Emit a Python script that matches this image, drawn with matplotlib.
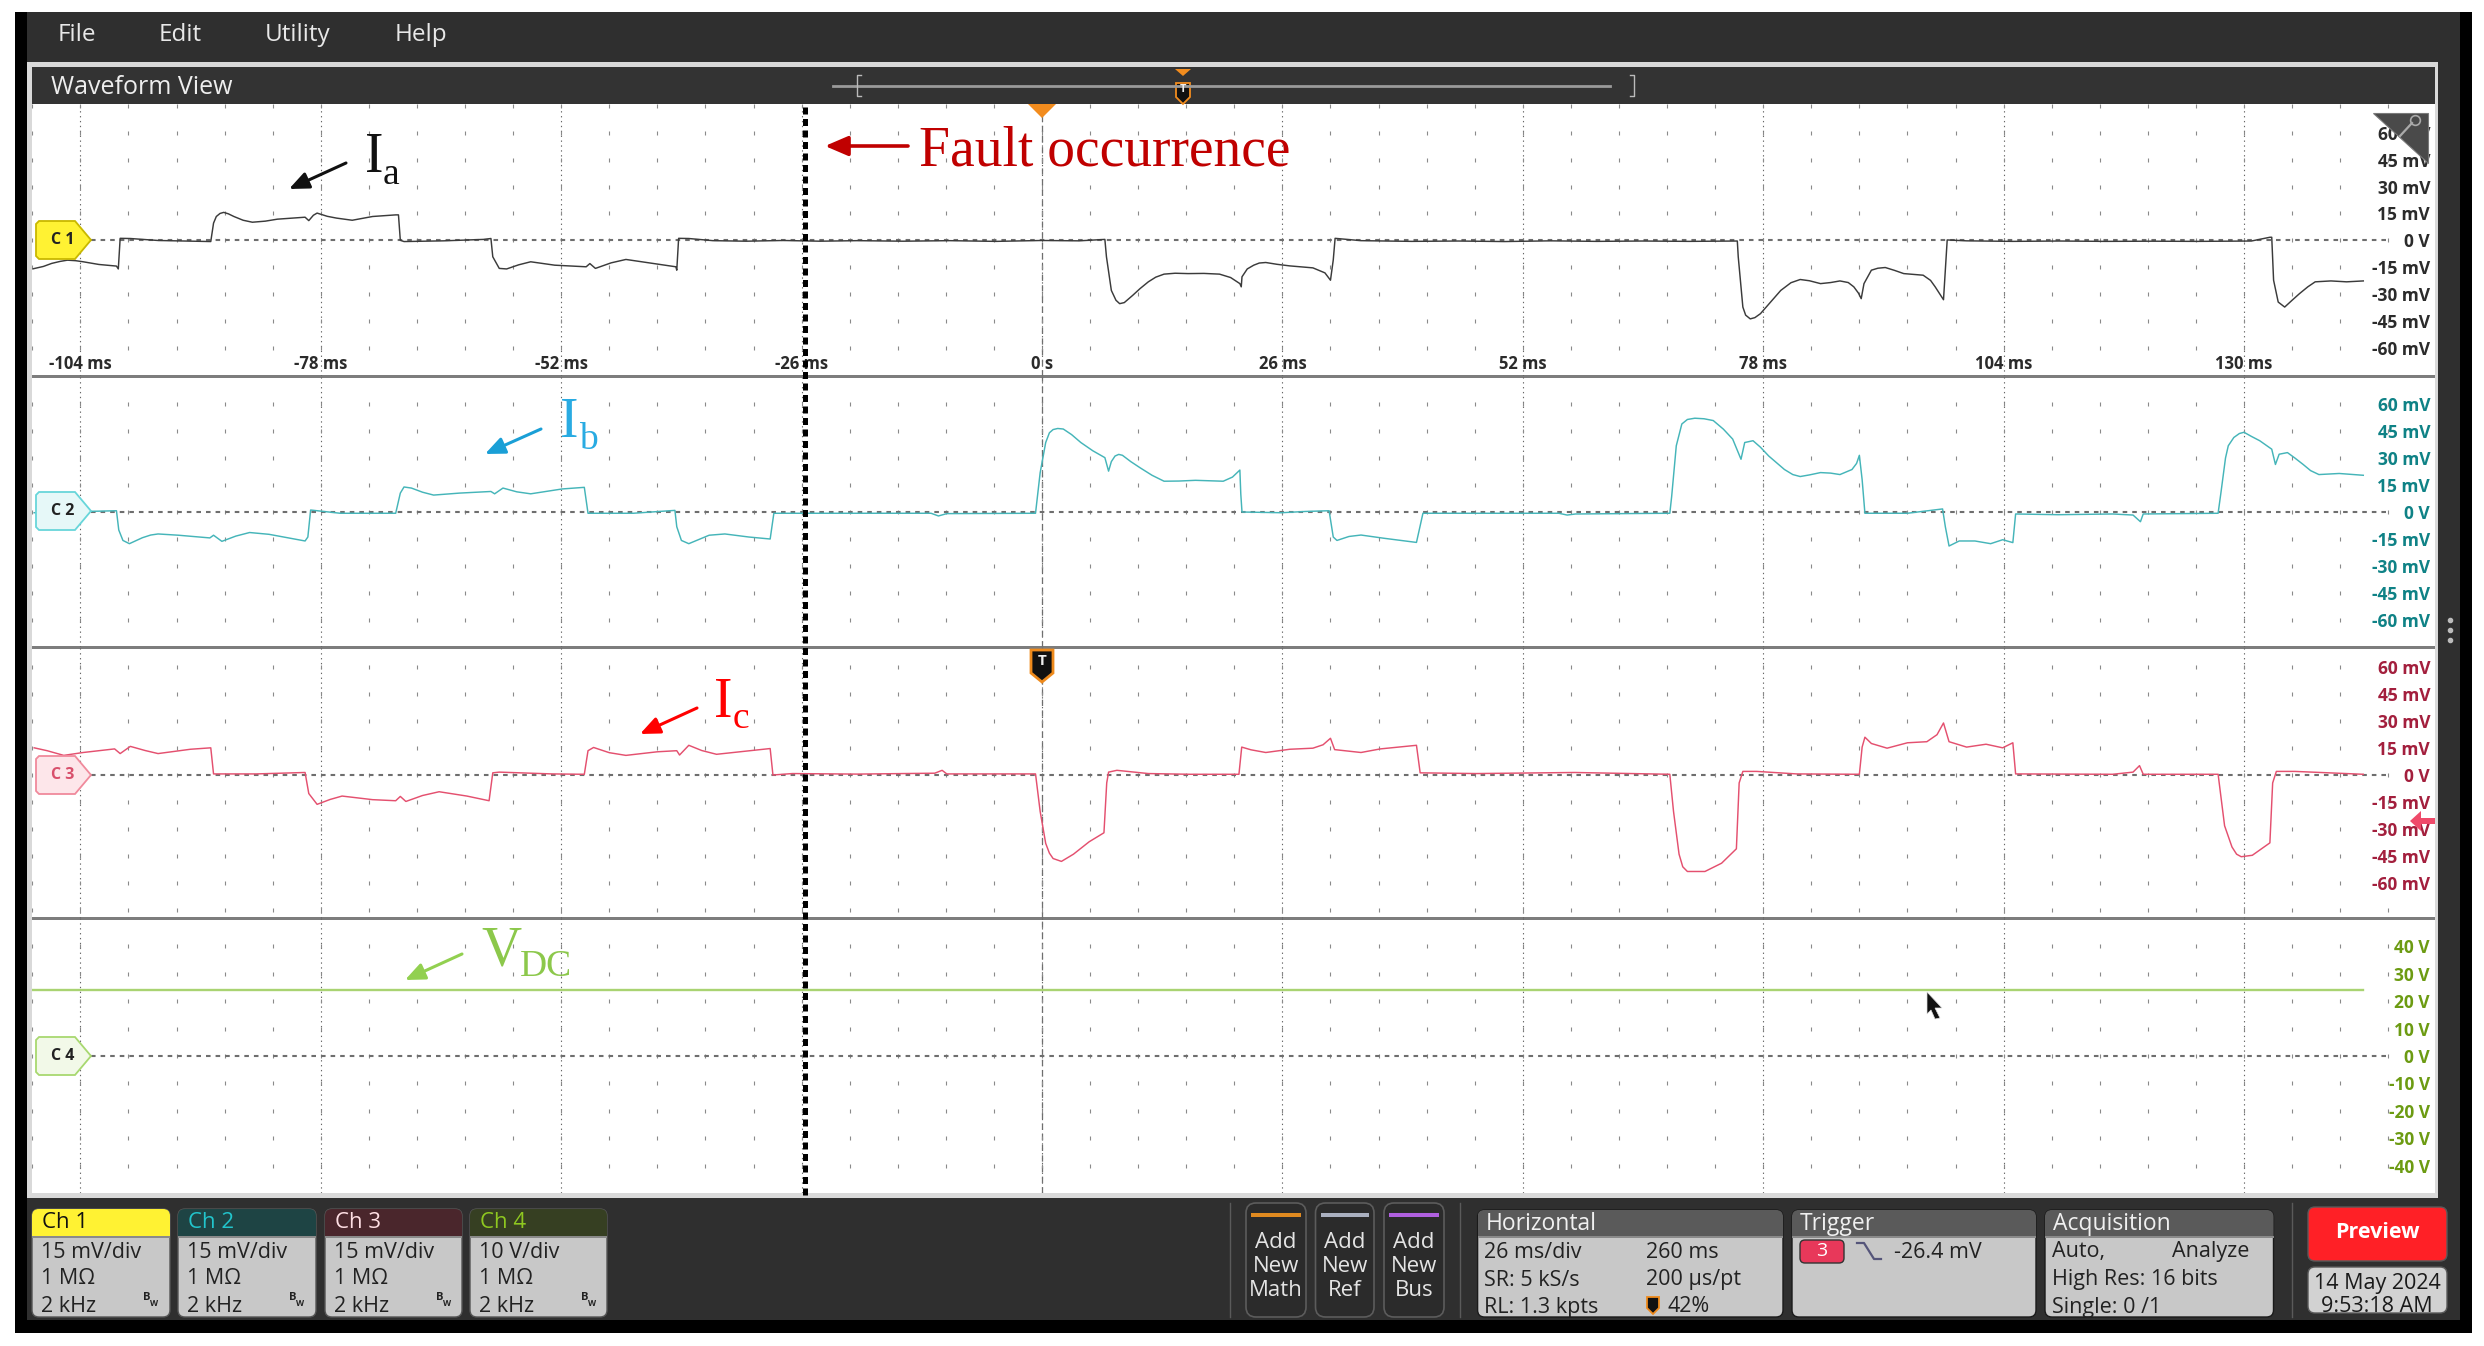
import matplotlib
matplotlib.use("Agg")
import numpy as np
import matplotlib.pyplot as plt
from matplotlib.patches import Rectangle, FancyBboxPatch, Polygon

# ------------------------- data (time ms, value) -------------------------
ch1_points = [(-109.1,-15.9),(-108,-14.6),(-107.1,-12.9),(-106.2,-11.8),(-105.4,-11.1),(-104.5,-11.4),(-103.7,-12),(-102,-13.5),(-100.1,-14.4),(-99.9,-16),(-99.7,1.1),(-98.6,1),(-95.6,-0.1),(-92.5,-0.4),(-89.9,-0.7),(-89.6,9.6),(-89.3,13.3),(-88.9,15),(-88.5,15.6),(-88,14.8),(-87.4,13.3),(-86.4,11.2),(-85.4,10.1),(-84,10.7),(-82.7,11.8),(-79.7,12.9),(-79.3,11),(-78.8,14),(-78.4,15.2),(-77.3,13.4),(-76.3,12.4),(-74.6,11.2),(-72.4,13.3),(-69.9,14.2),(-69.6,14.2),(-69.4,0),(-69,-0.7),(-64.7,-0.3),(-60.4,0.5),(-59.6,1),(-59.4,-9.2),(-58.7,-15.7),(-57.9,-16),(-56.6,-13.7),(-55.3,-12),(-52.7,-13.9),(-49.3,-14.8),(-48.9,-13),(-48.3,-15.7),(-46.6,-12.6),(-45,-10.7),(-42.5,-12.6),(-39.6,-14.8),(-39.5,-16.7),(-39.3,1.1),(-38.2,1),(-35.6,-0.2),(-32,-0.5),(-28,-0.1),(-24,-0.5),(-20,-0.2),(-15,-0.5),(-10,-0.2),(-5,-0.6),(0,-0.1),(4,-0.3),(6.8,0.5),(6.97,-9.2),(7.5,-28),(8,-33.5),(8.4,-35.4),(8.9,-34.8),(9.8,-30.8),(10.6,-27),(11.5,-23.2),(12.3,-20.6),(13.2,-18.9),(14.4,-18.4),(15.8,-18.6),(17.5,-18.5),(19.2,-18.9),(20.4,-20.8),(21.4,-24.2),(21.55,-26),(21.63,-20.4),(22.2,-16),(22.9,-13.9),(23.5,-12.7),(24.2,-12.4),(25.4,-13.4),(26.8,-14.3),(29.3,-15.4),(30.6,-18.2),(31.2,-22.3),(31.5,-11),(31.7,1.1),(34.5,-0.2),(40,-0.6),(45,-0.4),(50,-0.7),(55,-0.3),(60,-0.6),(65,-0.4),(70,-0.6),(75.2,-0.4),(75.3,-9.2),(75.8,-37.3),(76.1,-41.8),(76.6,-43.9),(77.1,-43.2),(77.7,-41),(78.8,-34.5),(79.9,-28),(81,-23.7),(82,-21.9),(83,-22.6),(84.2,-24.2),(85.3,-23.6),(86.3,-22.7),(87.2,-23.6),(87.8,-26),(88.3,-29.5),(88.6,-32.6),(88.9,-24.2),(89.7,-16.7),(90.4,-15.6),(91.2,-15.2),(92.2,-16.8),(93.2,-18.6),(95.3,-19.5),(96.1,-22.4),(96.6,-26),(97.5,-33.2),(97.9,0.2),(100,-0.3),(105,-0.6),(110,-0.4),(115,-0.6),(120,-0.5),(125,-0.6),(130.8,-0.4),(132.8,1.7),(133,1.7),(133.2,-22.3),(133.7,-34.5),(134.4,-37.3),(135.2,-33.5),(136,-29.8),(136.9,-26),(137.7,-23.2),(139.4,-22.7),(141.1,-23.2),(142.9,-22.7)]

ch2_points = [(-109,-0.4),(-100.1,0.7),(-99.85,-10),(-99.4,-15.8),(-98.7,-17.6),(-97.3,-14.3),(-96.4,-12.8),(-95.6,-12.2),(-93.4,-12.9),(-90,-14.4),(-89.6,-12.9),(-88.7,-16.3),(-87.2,-13.4),(-85.7,-11.4),(-83.6,-12.4),(-81.5,-14.4),(-79.7,-16.1),(-79.4,-13.9),(-79.1,1.1),(-78.4,0.7),(-75.9,-0.7),(-69.9,-0.7),(-69.4,10.5),(-69,13.9),(-68.2,13.3),(-67,11),(-65.8,9.4),(-63,10.5),(-59.6,11.4),(-59.2,10.1),(-58.3,13.3),(-56.8,11.2),(-55.3,10.1),(-51.9,12.8),(-49.5,13.7),(-49.1,-0.7),(-44.2,-0.7),(-39.7,0.9),(-39.5,-8.2),(-39,-15.8),(-38.2,-17.6),(-37,-15),(-36,-12.9),(-34.3,-12.2),(-31.7,-13.9),(-29.4,-15),(-29,-0.7),(-12,-0.7),(-11.2,-2.2),(-10.3,-0.9),(-0.7,-0.7),(-0.2,21.8),(0.4,38.6),(0.8,44),(1.2,45.8),(1.7,46.4),(2.3,46.1),(3.2,43),(4.2,38.6),(5.5,34),(6.8,30.2),(7.2,22.7),(7.5,28),(7.9,31.1),(8.3,32),(8.7,31.5),(9.6,28),(10.6,24.6),(11.9,20.4),(13.2,17.1),(14.8,17.2),(16.6,17.6),(19.6,17.1),(20.6,19.4),(21.4,23.3),(21.5,10),(21.63,0),(25.9,-0.4),(28.5,0.3),(31.05,0.7),(31.5,-13.9),(31.9,-15.8),(33.2,-13.6),(34.5,-12.8),(37,-14.6),(40.5,-16.9),(41.2,-0.7),(55.9,-0.7),(56.8,-1.7),(57.7,-1.1),(67.9,-0.7),(68.1,8.6),(68.6,36.8),(69.2,48.9),(69.8,51.4),(70.6,52.1),(71.6,51.8),(72.6,50.8),(73.7,46),(74.7,40.5),(75.6,29.3),(76,38.6),(76.9,39.6),(77.7,36),(78.6,31.1),(80.3,23.6),(81.2,20.8),(82,19.7),(83,20.6),(84.2,21.9),(85.3,21.6),(86.3,20.8),(87.6,23.6),(88.1,27),(88.4,31.5),(88.7,18),(89,-0.7),(93.6,-0.7),(97.4,1.7),(97.7,-8.2),(98.1,-18.9),(99.2,-16.1),(100.9,-16.1),(102.6,-17.6),(103.9,-15.4),(105,-17),(105.3,-1.1),(109.9,-1.5),(115.8,-1.1),(118,-1.7),(118.8,-5.4),(119.1,-1.1),(127.2,-0.7),(127.5,10.5),(128,30),(128.3,36.8),(128.9,41.4),(129.5,43.6),(130,44.3),(130.8,42),(131.7,39.6),(133,34.9),(133.4,26.4),(133.8,32.1),(134.7,33),(135.5,30),(136.4,26.4),(137.2,23),(138.1,20.8),(140.3,21.4),(142.9,20.4)]

ch3_points = [(-109,15.1),(-107.6,13.5),(-105.8,10.9),(-103.7,12.5),(-100.3,14.5),(-99.7,11.9),(-98.6,15.9),(-97,13.6),(-95.6,11.9),(-92.1,14.3),(-89.9,15.1),(-89.6,0.6),(-85,0.6),(-79.7,1.4),(-79.3,-10.3),(-78.4,-16.3),(-77,-13.6),(-75.7,-11.7),(-72.4,-13.7),(-69.9,-14.3),(-69.4,-11.9),(-68.8,-14.7),(-67,-11.4),(-65.2,-9.3),(-62.2,-11.7),(-59.8,-14.3),(-59.4,1.2),(-58.7,1.6),(-53,0.6),(-49.5,0.4),(-49.1,13.5),(-48.5,15.3),(-46.8,12.4),(-45,10.9),(-41.6,12.9),(-39.5,13.5),(-39.2,11.1),(-38.2,16.5),(-36.8,13.6),(-35.2,11.5),(-29.4,14.7),(-29.1,0),(-27,0.8),(-20,0.5),(-11.6,1),(-10.8,2.6),(-10.3,0.6),(-0.7,0.6),(-0.2,-20.2),(0.4,-38),(0.8,-43.4),(1.2,-46.4),(2.1,-48),(3.4,-44),(5.1,-37.1),(6.7,-32.1),(7,-4.4),(7.2,1.6),(8.1,2.6),(11.5,0.8),(16,0.4),(21.3,0.4),(21.6,15.5),(22.6,14),(24.2,12.5),(26.8,14.3),(29.3,14.9),(30.4,16.8),(31.2,20.4),(31.65,14.1),(34.5,12.5),(36.6,14.5),(40.5,16.5),(40.9,1.2),(47,0.8),(57.6,1.4),(67.9,0.4),(68.3,-20.2),(68.9,-44),(69.3,-51),(69.8,-53.6),(71.7,-53.6),(73.5,-49),(75.1,-41),(75.4,-4.4),(75.8,2),(77.3,2),(81.6,0.6),(88.4,0.4),(88.7,15.5),(89,21),(89.7,17.5),(91.4,14.9),(93.6,17.9),(95.7,18.5),(96.8,22.4),(97.5,28.9),(98.1,18.5),(100,15.5),(102.1,17.1),(103.9,15.1),(105,17.9),(105.3,0.6),(115.8,0.4),(118,1.6),(118.7,5.2),(119.1,0.4),(127.2,0.4),(127.9,-28.2),(128.7,-40),(129.2,-44),(129.7,-45.4),(130.9,-44.6),(132.8,-37.7),(133.1,-4.4),(133.5,2),(135.5,2),(142.9,0.4)]

ch4_t = [-109.2, 142.9]
ch4_v = [24, 24]

time_ticks = [-104, -78, -52, -26, 0, 26, 52, 78, 104, 130]
time_labels = ["-104 ms", "-78 ms", "-52 ms", "-26 ms", "0 s", "26 ms", "52 ms", "78 ms", "104 ms", "130 ms"]
mv_ticks = [60, 45, 30, 15, 0, -15, -30, -45, -60]
mv_labels = ["60 mV", "45 mV", "30 mV", "15 mV", "0 V", "-15 mV", "-30 mV", "-45 mV", "-60 mV"]
v_ticks = [40, 30, 20, 10, 0, -10, -20, -30, -40]
v_labels = ["40 V", "30 V", "20 V", "10 V", "0 V", "-10 V", "-20 V", "-30 V", "-40 V"]
fault_time = -25.6

ch1_t, ch1_mv = zip(*ch1_points)
ch2_t, ch2_mv = zip(*ch2_points)
ch3_t, ch3_mv = zip(*ch3_points)

# ------------------------- layout -------------------------
W, H = 2484, 1346
plt.rcParams['font.family'] = ['Open Sans', 'DejaVu Sans']
fig = plt.figure(figsize=(W / 100, H / 100), dpi=100, facecolor='white')

PX0, PX1 = 32, 2435
ZERO_PX, PX_PER_MS = 1042, 240.4 / 26


def x_of(t):
    return ZERO_PX + t * PX_PER_MS


bg = fig.add_axes([0, 0, 1, 1], zorder=0)
bg.set_xlim(0, W); bg.set_ylim(H, 0); bg.axis('off')
ui = fig.add_axes([0, 0, 1, 1], zorder=10)
ui.set_xlim(0, W); ui.set_ylim(H, 0); ui.axis('off'); ui.patch.set_alpha(0)


def rect(ax, x0, y0, x1, y1, color, **kw):
    ax.add_patch(Rectangle((x0, y0), x1 - x0, y1 - y0, fc=color, ec='none', **kw))


def rrect(ax, x0, y0, x1, y1, fc, ec='none', r=7, lw=1.0, clip=None):
    p = FancyBboxPatch((x0, y0), x1 - x0, y1 - y0, boxstyle=f"round,pad=0,rounding_size={r}",
                       fc=fc, ec=ec, lw=lw)
    ax.add_patch(p)
    if clip is not None:
        cr = Rectangle((clip[0], clip[1]), clip[2] - clip[0], clip[3] - clip[1], transform=ax.transData)
        p.set_clip_path(cr)
    return p


def txt(ax, x, y, s, size=15, color='#111111', ha='left', va='center', **kw):
    return ax.text(x, y, s, fontsize=size, color=color, ha=ha, va=va, **kw)


# chrome
rect(bg, 15, 12, 2472, 1333, '#000000')
rect(bg, 27, 12, 2460, 1320, '#2f2f2f')
rect(bg, 27, 62, 2438, 1198, '#d9d9d9')
rect(bg, 32, 67, 2435, 104, '#333333')
rect(bg, 32, 104, 2435, 1193, '#ffffff')
for name, x in [("File", 58), ("Edit", 159), ("Utility", 265), ("Help", 395)]:
    txt(bg, x, 35, name, 17.5, '#e8e8e8')
txt(bg, 51, 87, "Waveform View", 18, '#eeeeee')
bg.plot([833, 1610], [86, 86], color='#9a9a9a', lw=2)
bg.plot([861, 857, 857, 861], [75, 75, 96, 96], color='#bbbbbb', lw=1)
bg.plot([1630, 1634, 1634, 1630], [75, 75, 96, 96], color='#bbbbbb', lw=1)
bg.add_patch(Polygon([[1175, 69], [1191, 69], [1183, 76]], fc='#f28c1e', ec='none'))
bg.add_patch(Polygon([[1176, 83], [1190, 83], [1190, 97], [1183, 104], [1176, 97]], fc='#111111', ec='#f28c1e', lw=1.3))
txt(bg, 1183, 90, "T", 8, '#eeeeee', ha='center', fontweight='bold')
for y in (376, 647, 918):
    rect(bg, 32, y - 1.5, 2435, y + 1.5, '#7d7d7d')
for y in (620, 630, 640):
    bg.plot([2450], [y], 'o', ms=3, color='#bbbbbb')


# ------------------------- channels -------------------------
def channel(top, bot, zero_px, px_per_unit, t, v, color, ticks, labels, labcolor, rows, lw=1.05):
    ax = fig.add_axes([PX0 / W, 1 - bot / H, (PX1 - PX0) / W, (bot - top) / H], zorder=2)
    ax.patch.set_alpha(0)
    ax.set_xlim((PX0 - ZERO_PX) / PX_PER_MS, (PX1 - ZERO_PX) / PX_PER_MS)
    ax.set_ylim((zero_px - bot) / px_per_unit, (zero_px - top) / px_per_unit)
    for s in ax.spines.values():
        s.set_visible(False)
    ax.set_xticks(time_ticks)
    ax.grid(axis='x', color='#666666', lw=0.8, ls=(0, (1.2, 3.2)))
    ax.axvline(0, color='#6f6f6f', lw=0.9, ls=(0, (5, 3.5)))
    cols = np.arange(-21, 29) * 5.2
    xx, yy = np.meshgrid(cols, rows)
    ax.plot(xx.ravel(), yy.ravel(), ls='none', marker='|', ms=3.2, mew=0.8, color='#8a8a8a')
    ax.plot([(91 - ZERO_PX) / PX_PER_MS, (2389 - ZERO_PX) / PX_PER_MS], [0, 0],
            color='#6e6e6e', lw=1.5, ls=(0, (2.2, 2.4)))
    ax.plot(t, v, color=color, lw=lw, solid_joinstyle='round')
    ax.yaxis.tick_right()
    ax.set_yticks(ticks, labels)
    ax.tick_params(axis='y', length=0, pad=-3.6, labelsize=12.5, labelcolor=labcolor)
    for lb in ax.get_yticklabels():
        lb.set_ha('right')
        lb.set_fontweight('bold')
    ax.tick_params(axis='x', length=0, labelbottom=False)
    return ax


mv_rows = np.array(mv_ticks, dtype=float)
a1 = channel(104, 376, 240.3, 1.79, ch1_t, ch1_mv, '#3b3b3b', mv_ticks, mv_labels, '#2b2b2b', np.r_[75.0, mv_rows])
a2 = channel(376, 647, 512, 1.8, ch2_t, ch2_mv, '#45b5b9', mv_ticks, mv_labels, '#0f8286', mv_rows)
a3 = channel(647, 918, 775, 1.8, ch3_t, ch3_mv, '#e4506f', mv_ticks, mv_labels, '#a31f3d', np.r_[mv_rows, -75.0])
a4 = channel(918, 1193, 1056, 2.74, ch4_t, ch4_v, '#a9d372', v_ticks, v_labels, '#6c9b12', np.array(v_ticks, float), lw=1.7)
a1.set_xticks(time_ticks, time_labels)
a1.tick_params(axis='x', labelbottom=True, pad=-15, labelsize=12, labelcolor='#2b2b2b')
for lb in a1.get_xticklabels():
    lb.set_fontweight('bold')

# ------------------------- overlays -------------------------
# magnifier corner
ui.add_patch(Polygon([[2373, 113], [2428, 113], [2428, 163]], fc='#4a4a4a', ec='#7a7a7a', lw=0.8))
ui.plot([2400, 2412], [136, 123], color='#aaaaaa', lw=1.6)
ui.plot([2415], [120], 'o', ms=7, mfc='none', mec='#aaaaaa', mew=1.2)

# fault line
xf = x_of(fault_time)
ui.plot([xf, xf], [107, 1195], color='black', lw=3.6, ls=(0, (1.4, 0.9)))
# trigger marks
ui.add_patch(Polygon([[1028, 104], [1056, 104], [1042, 118]], fc='#f28c1e', ec='none'))
ui.add_patch(Polygon([[1031, 650], [1053, 650], [1053, 673], [1042, 682], [1031, 673]], fc='#111111', ec='#ee8a1c', lw=2))
txt(ui, 1042, 661, "T", 11, '#eeeeee', ha='center', fontweight='bold')
ui.add_patch(Polygon([[2410, 821], [2421, 811], [2421, 818], [2435, 818], [2435, 824], [2421, 824], [2421, 831]], fc='#ef4a6a', ec='none'))
# cursor
ui.add_patch(Polygon([[1927, 992], [1942, 1008], [1935, 1008], [1940, 1018], [1935, 1019], [1931, 1010], [1927, 1014]], fc='#111111', ec='#dddddd', lw=0.5))

# channel markers
for name, y0, fc, ec, tc in [("C 1", 221, '#fff233', '#c9b800', '#222222'),
                             ("C 2", 492, '#e6f8f8', '#68d6da', '#222222'),
                             ("C 3", 756, '#fde6ea', '#f08a9c', '#d8506c'),
                             ("C 4", 1037, '#f2f9e8', '#a8d870', '#222222')]:
    ui.add_patch(Polygon([[36, y0 + 3], [39, y0], [75, y0], [91, y0 + 19], [75, y0 + 38], [39, y0 + 38], [36, y0 + 35]],
                         fc=fc, ec=ec, lw=1.3))
    txt(ui, 63, y0 + 19, name, 11.5, tc, ha='center', fontweight='bold')

# annotations
SERIF = ['Liberation Serif', 'DejaVu Serif']


def arrow(x0, y0, x1, y1, color, ms=17, lw=2.2):
    ui.annotate('', xy=(x1, y1), xytext=(x0, y0),
                arrowprops=dict(arrowstyle='-|>,head_length=0.7,head_width=0.3', color=color, lw=lw,
                                mutation_scale=ms, shrinkA=0, shrinkB=0))


txt(ui, 919, 165, "Fault occurrence", 40, '#c00000', va='baseline', family=SERIF)
arrow(908, 146, 825, 146, '#c00000', ms=20, lw=2.6)
for main, sub, xm, ym, xs, ys, col, acol, ar in [
    ("I", "a", 365, 172, 383, 184, '#111111', '#111111', (346, 163, 289, 189)),
    ("I", "b", 560, 437, 579, 449, '#29abe2', '#1a9fd6', (541, 429, 485, 454)),
    ("I", "c", 714, 717, 733, 728, '#ff0000', '#ff0000', (697, 708, 640, 734)),
    ("V", "DC", 481, 965, 520, 976, '#8cc84b', '#92d050', (462, 954, 405, 980))]:
    txt(ui, xm, ym, main, 40, col, va='baseline', family=SERIF)
    txt(ui, xs, ys, sub, 27, col, va='baseline', family=SERIF)
    arrow(*ar, acol)

# ------------------------- bottom panel -------------------------
BODY = '#c8c8c8'
for name, x0, x1, hc, tc, sc in [("Ch 1", 32, 170, '#fff233', '#111111', "15 mV/div"),
                                 ("Ch 2", 178, 316, '#1e4444', '#22c5cc', "15 mV/div"),
                                 ("Ch 3", 325, 462, '#4a262c', '#ffdfe4', "15 mV/div"),
                                 ("Ch 4", 470, 607, '#363f22', '#8ec820', "10 V/div")]:
    rrect(bg, x0, 1209, x1, 1317, BODY, ec='#555555')
    rrect(bg, x0, 1209, x1, 1317, hc, clip=(x0, 1205, x1, 1236))
    rect(bg, x0, 1236, x1, 1238, '#8a8a8a')
    txt(bg, x0 + 10, 1223, name, 16, tc)
    for s, y in [(sc, 1252), ("1 MΩ", 1279), ("2 kHz", 1307)]:
        txt(bg, x0 + 9, y, s, 15.5, '#222222')
    txt(bg, x0 + 111, 1298, "B", 8, '#222222', fontweight='bold')
    txt(bg, x0 + 118, 1303, "W", 6, '#222222', fontweight='bold')

for x in (1229.5, 1460, 2292):
    bg.plot([x, x], [1203, 1317], color='#5a5a5a', lw=1)

for (x0, x1, barc, lines) in [(1246, 1306, '#e08a20', ["Add", "New", "Math"]),
                              (1315.5, 1374, '#aab0c0', ["Add", "New", "Ref"]),
                              (1384, 1444, '#b060e0', ["Add", "New", "Bus"])]:
    rrect(bg, x0, 1203, x1, 1317, '#2b2b2b', ec='#5c5c5c', r=10, lw=1.2)
    rect(bg, x0 + 5, 1213, x1 - 5, 1217, barc)
    for s, y in zip(lines, (1243, 1266, 1290)):
        txt(bg, (x0 + x1) / 2, y, s, 16, '#e4e4e4', ha='center')

for title, x0, x1 in [("Horizontal", 1477.6, 1783), ("Trigger", 1792, 2036), ("Acquisition", 2045, 2273.5)]:
    rrect(bg, x0, 1210, x1, 1317, BODY, ec='#1a1a1a')
    rrect(bg, x0, 1210, x1, 1317, '#5a5a5a', clip=(x0, 1206, x1, 1236))
    rect(bg, x0, 1236, x1, 1238, '#8a8a8a')
    txt(bg, x0 + 8, 1224, title, 16.5, '#f0f0f0')

for x, y, s in [(1484, 1252, "26 ms/div"), (1646, 1252, "260 ms"),
                (1484, 1280, "SR: 5 kS/s"), (1646, 1280, "200 µs/pt"),
                (1484, 1307, "RL: 1.3 kpts"), (1667, 1307, "42%"),
                (1894, 1252, "-26.4 mV"),
                (2052, 1252, "Auto,"), (2172, 1252, "Analyze"),
                (2052, 1280, "High Res: 16 bits"), (2052, 1307, "Single: 0 /1")]:
    txt(bg, x, y, s, 15.5, '#222222')
bg.add_patch(Polygon([[1647, 1297], [1659, 1297], [1659, 1308], [1653, 1314], [1647, 1308]], fc='#111111', ec='#ee8a1c', lw=1.3))
rrect(bg, 1800, 1240, 1844, 1263, '#e8385a', ec='#333333', r=5)
txt(bg, 1822, 1251, "3", 14, '#ffffff', ha='center')
bg.plot([1857, 1864, 1874, 1881], [1243, 1243, 1259, 1259], color='#55557a', lw=1.6)

rrect(bg, 2308, 1207, 2447, 1261, '#ff2026', ec='#5a5a5a', r=7)
txt(bg, 2377, 1232, "Preview", 15.5, '#ffffff', ha='center', fontweight='bold')
rrect(bg, 2308, 1267, 2447, 1313, '#d2d2d2', ec='#5a5a5a', r=7)
txt(bg, 2377, 1283, "14 May 2024", 15.5, '#1a1a1a', ha='center')
txt(bg, 2377, 1307, "9:53:18 AM", 15.5, '#1a1a1a', ha='center')

fig.savefig("out.png", dpi=100, facecolor='white')
